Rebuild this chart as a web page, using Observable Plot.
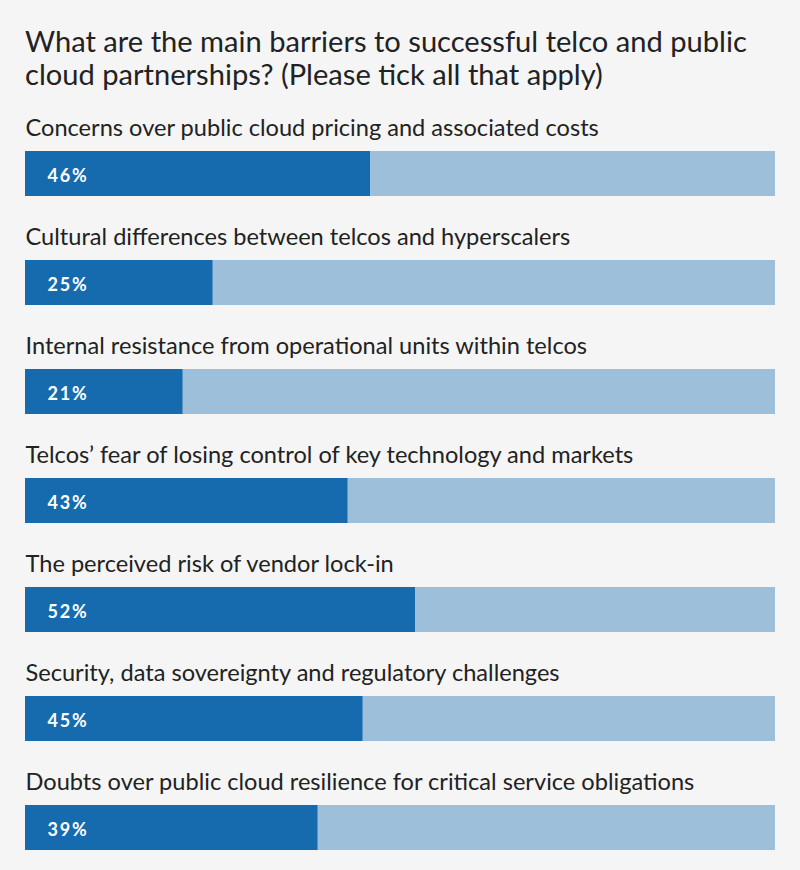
<!DOCTYPE html>
<html>
<head>
<meta charset="utf-8">
<script src="https://cdn.jsdelivr.net/npm/d3@7"></script>
<script src="https://cdn.jsdelivr.net/npm/@observablehq/plot@0.6"></script>
<style>
  html, body { margin: 0; padding: 0; background: #f5f5f5; }
  body { width: 800px; font-family: Lato, "Noto Sans", sans-serif; }
  #title { box-sizing: border-box; height: 100px; padding: 24px 25px 0 25px; font-size: 29.1px; line-height: 33px; color: #222; }
  #chart svg { display: block; background: #f5f5f5; }
  #chart g[font-weight="bold"] { letter-spacing: 1.8px; }
</style>
</head>
<body>
<div id="title">What are the main barriers to successful telco and public cloud partnerships? (Please tick all that apply)</div>
<div id="chart"></div>
<script>
const categories = [
  "Concerns over public cloud pricing and associated costs",
  "Cultural differences between telcos and hyperscalers",
  "Internal resistance from operational units within telcos",
  "Telcos’ fear of losing control of key technology and markets",
  "The perceived risk of vendor lock-in",
  "Security, data sovereignty and regulatory challenges",
  "Doubts over public cloud resilience for critical service obligations"
];
const values = [46, 25, 21, 43, 52, 45, 39];

const data = categories.map((c, i) => ({category: c, value: values[i]}));

const chart = Plot.plot({
  width: 800,
  height: 770,
  marginLeft: 25,
  marginRight: 25,
  marginTop: 7,
  marginBottom: 0,
  style: {background: "#f5f5f5", fontFamily: "Lato, 'Noto Sans', sans-serif"},
  x: {domain: [0, 100], axis: null},
  y: {domain: categories, axis: null, padding: 0},
  marks: [
    Plot.barX(data, {y: "category", x1: 0, x2: 100, fill: "#9dbfda", insetTop: 44, insetBottom: 20}),
    Plot.barX(data, {y: "category", x1: 0, x2: "value", fill: "#166bae", insetTop: 44, insetBottom: 20}),
    Plot.text(data, {y: "category", x: 0, text: "category", textAnchor: "start", dy: -33.5, fontSize: 23.6, fill: "#222"}),
    Plot.text(data, {y: "category", x: 0, text: d => d.value + "%", textAnchor: "start", dx: 22, dy: 14, fontSize: 18, fontWeight: "bold", fill: "white"})
  ]
});
document.getElementById("chart").appendChild(chart);
</script>
</body>
</html>
